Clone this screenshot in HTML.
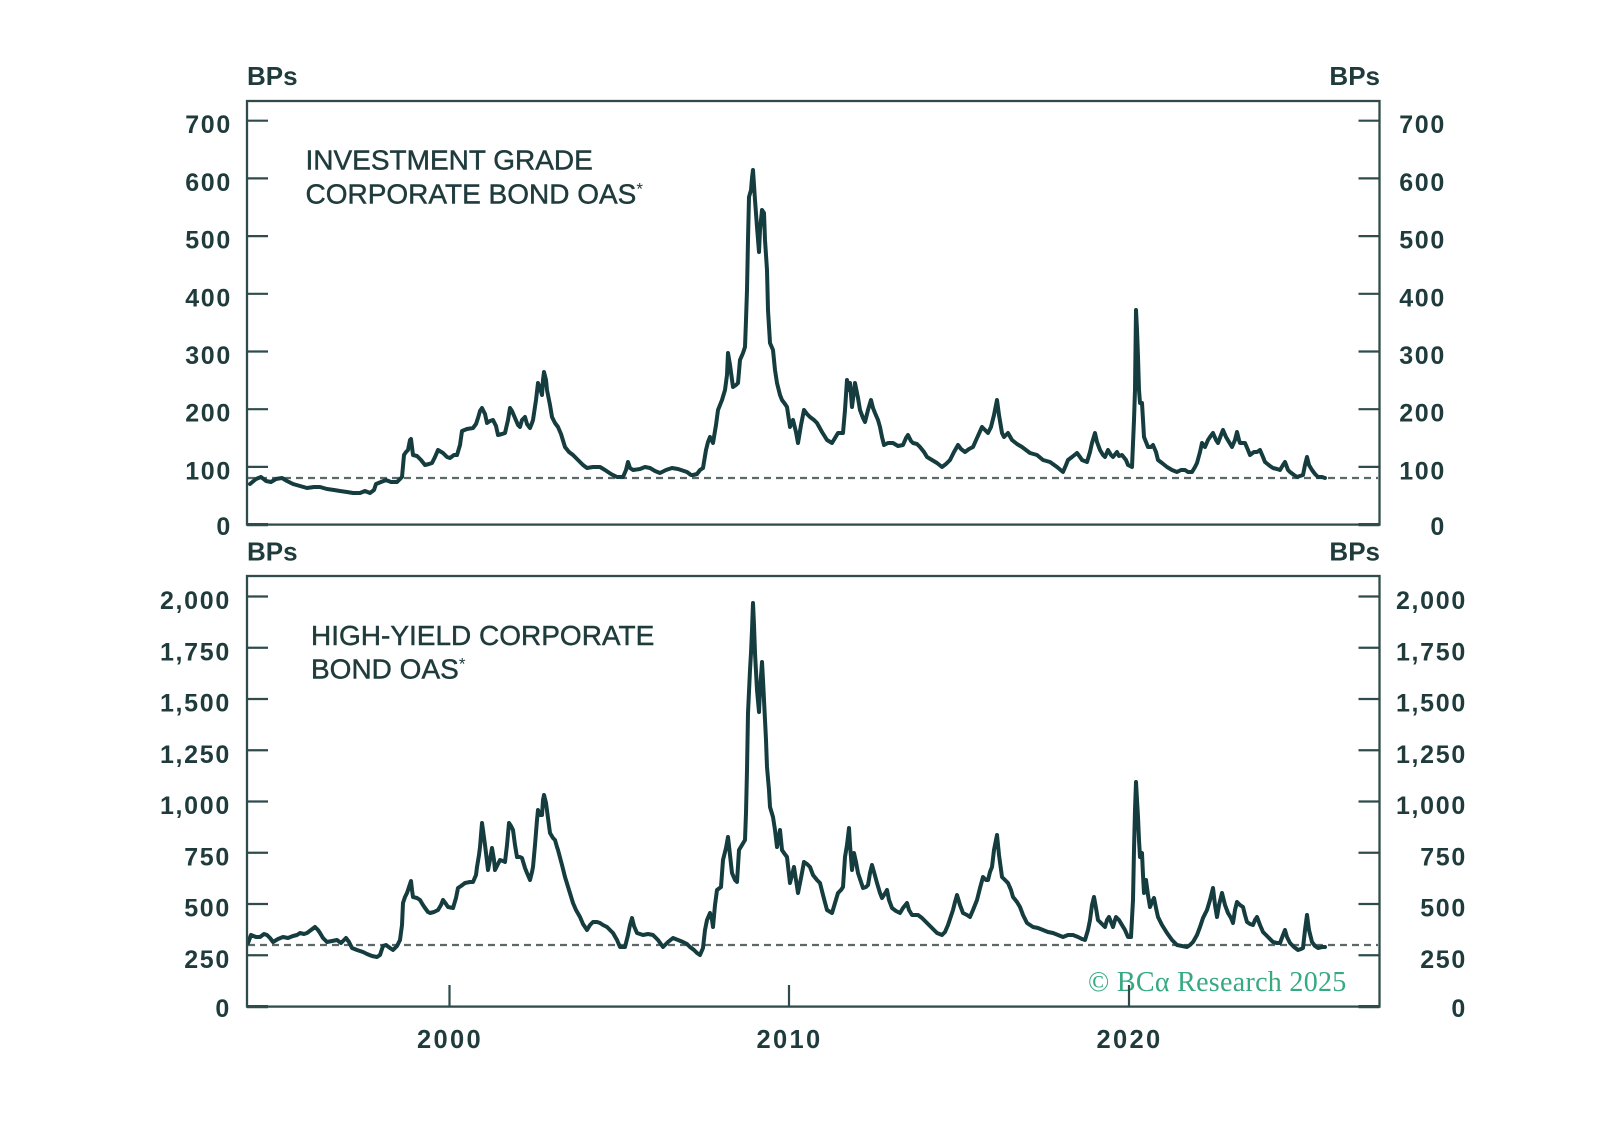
<!DOCTYPE html>
<html>
<head>
<meta charset="utf-8">
<style>
  html,body{margin:0;padding:0;background:#ffffff;}
  svg{display:block;}
  .lab{font-family:"Liberation Sans",Arial,sans-serif;font-weight:bold;font-size:25px;letter-spacing:1.7px;fill:#1f3b3c;}
  .xl{font-family:"Liberation Sans",Arial,sans-serif;font-weight:bold;font-size:25.5px;letter-spacing:2.3px;fill:#1f3b3c;}
  .ttl{font-family:"Liberation Sans",Arial,sans-serif;font-weight:normal;font-size:28px;fill:#1f3b3c;stroke:#1f3b3c;stroke-width:0.45px;}
  .bps{font-family:"Liberation Sans",Arial,sans-serif;font-weight:bold;font-size:26px;fill:#1f3b3c;}
  .cr{font-family:"Liberation Serif","Times New Roman",serif;font-size:28px;letter-spacing:0.3px;fill:#36a981;}
</style>
</head>
<body>
<svg width="1598" height="1144" viewBox="0 0 1598 1144" xmlns="http://www.w3.org/2000/svg">
  <rect x="0" y="0" width="1598" height="1144" fill="#ffffff"/>
  <defs>
    <clipPath id="c1"><rect x="248" y="102" width="1130" height="421"/></clipPath>
    <clipPath id="c2"><rect x="248" y="577" width="1130" height="428"/></clipPath>
  </defs>

  <!-- ===== TOP PANEL ===== -->
  <text class="bps" x="247" y="85">BPs</text>
  <text class="bps" x="1380" y="85" text-anchor="end">BPs</text>

  <line x1="248" y1="478" x2="1378" y2="478" stroke="#5d6868" stroke-width="2.2" stroke-dasharray="7 5"/>

  <polyline clip-path="url(#c1)" fill="none" stroke="#153c3e" stroke-width="4" stroke-linejoin="round" stroke-linecap="round"
  points="250,484 256,479 261,477 266,481 271,482 276,479 282,478 287,481 293,484 300,486 307,488 314,487 320,487 327,489 334,490 340,491 347,492 353,493 360,493 365,491 370,493 374,490 376,484 381,482 386,480 391,482 397,482 402,477 404,455 406,452 408,450 410,440 411,439 413,455 417,456 421,460 425,465 429,464 432,463 435,457 438,450 443,453 447,457 450,458 454,455 457,455 460,445 462,431 467,429 473,428 476,424 478,418 480,411 482,408 485,414 487,423 490,421 493,420 496,426 498,435 502,434 505,433 508,420 510,408 512,411 515,418 518,425 520,427 522,420 525,417 527,424 530,428 532,423 533,420 536,400 538,383 540,388 542,395 543,380 544,372 546,380 547,390 550,405 552,417 555,423 558,427 561,434 565,447 569,452 573,455 578,460 583,465 587,468 593,467 600,467 605,470 611,474 617,477 623,477 626,470 628,462 630,468 633,470 640,469 645,467 650,468 655,471 660,473 666,470 672,468 678,469 684,471 687,472 691,475 693,475 697,474 700,470 703,468 706,450 708,442 710,437 712,441 713,443 716,425 718,410 722,400 725,390 727,375 728,353 730,365 733,387 736,385 738,383 740,360 743,353 745,347 746,320 747,290 748,240 749,197 751,190 752,178 753,170 754,185 755,200 757,227 759,252 760,230 762,210 764,213 765,240 767,270 768,310 770,343 773,350 775,370 777,383 780,395 782,400 785,404 787,407 790,427 793,420 796,432 798,443 801,425 804,410 807,414 810,417 814,420 817,423 822,432 827,440 832,443 835,438 838,433 843,433 845,410 847,380 849,390 850,383 852,407 855,383 858,398 860,410 863,418 865,422 868,410 871,400 873,408 875,413 878,420 880,427 882,437 884,445 888,443 893,443 898,446 903,445 906,438 908,435 911,441 913,443 917,444 920,447 924,452 927,457 932,460 937,463 942,467 946,464 950,460 954,452 958,445 961,449 965,452 969,449 973,447 977,438 982,427 985,430 988,433 991,427 994,415 997,400 999,415 1002,433 1004,437 1008,433 1012,440 1017,444 1022,447 1026,450 1030,453 1037,455 1043,460 1050,462 1057,467 1063,472 1066,465 1068,460 1072,457 1077,453 1080,457 1082,460 1087,462 1090,452 1092,443 1095,433 1097,442 1100,450 1103,455 1105,457 1108,450 1111,455 1113,457 1117,452 1119,456 1122,455 1126,460 1128,465 1132,467 1134,420 1135,390 1136,310 1137,330 1138,357 1139,390 1140,403 1142,403 1144,437 1146,442 1148,447 1151,447 1153,445 1156,452 1158,460 1162,463 1167,467 1172,470 1177,472 1181,470 1185,470 1188,472 1192,472 1195,467 1197,463 1200,452 1202,443 1205,447 1208,440 1210,437 1213,433 1216,440 1218,443 1221,435 1223,430 1226,437 1229,442 1232,447 1235,440 1237,432 1239,440 1240,443 1245,443 1248,450 1250,455 1254,452 1257,452 1260,450 1263,457 1265,462 1270,466 1273,468 1277,469 1280,470 1283,465 1285,462 1288,470 1290,472 1294,475 1297,477 1300,476 1303,475 1305,465 1307,457 1309,465 1312,470 1315,474 1318,477 1322,477 1325,478"/>

  <rect x="247" y="101" width="1132.5" height="423.6" fill="none" stroke="#2f4b4c" stroke-width="2.3"/>

  <g stroke="#2f4b4c" stroke-width="2.2">
    <line x1="247" y1="120.7" x2="268" y2="120.7"/><line x1="1358.5" y1="120.7" x2="1379.5" y2="120.7"/>
    <line x1="247" y1="178.4" x2="268" y2="178.4"/><line x1="1358.5" y1="178.4" x2="1379.5" y2="178.4"/>
    <line x1="247" y1="236.1" x2="268" y2="236.1"/><line x1="1358.5" y1="236.1" x2="1379.5" y2="236.1"/>
    <line x1="247" y1="293.8" x2="268" y2="293.8"/><line x1="1358.5" y1="293.8" x2="1379.5" y2="293.8"/>
    <line x1="247" y1="351.5" x2="268" y2="351.5"/><line x1="1358.5" y1="351.5" x2="1379.5" y2="351.5"/>
    <line x1="247" y1="409.2" x2="268" y2="409.2"/><line x1="1358.5" y1="409.2" x2="1379.5" y2="409.2"/>
    <line x1="247" y1="466.9" x2="268" y2="466.9"/><line x1="1358.5" y1="466.9" x2="1379.5" y2="466.9"/>
    <line x1="247" y1="524.6" x2="268" y2="524.6" stroke-width="3.2"/><line x1="1358.5" y1="524.6" x2="1379.5" y2="524.6" stroke-width="3.2"/>
  </g>

  <g class="lab" text-anchor="end">
    <text x="232" y="133.2">700</text>
    <text x="232" y="190.9">600</text>
    <text x="232" y="248.6">500</text>
    <text x="232" y="306.3">400</text>
    <text x="232" y="364">300</text>
    <text x="232" y="421.7">200</text>
    <text x="232" y="479.4">100</text>
    <text x="232" y="535">0</text>
  </g>
  <g class="lab" text-anchor="end">
    <text x="1446" y="133.2">700</text>
    <text x="1446" y="190.9">600</text>
    <text x="1446" y="248.6">500</text>
    <text x="1446" y="306.3">400</text>
    <text x="1446" y="364">300</text>
    <text x="1446" y="421.7">200</text>
    <text x="1446" y="479.4">100</text>
    <text x="1446" y="535">0</text>
  </g>

  <text class="ttl" x="305.5" y="169.3">INVESTMENT GRADE</text>
  <text class="ttl" x="305.5" y="203.3">CORPORATE BOND OAS<tspan font-size="17" dy="-9" stroke-width="0">*</tspan></text>

  <!-- ===== BOTTOM PANEL ===== -->
  <text class="bps" x="247" y="560.5">BPs</text>
  <text class="bps" x="1380" y="560.5" text-anchor="end">BPs</text>

  <line x1="248" y1="945" x2="1378" y2="945" stroke="#5d6868" stroke-width="2.2" stroke-dasharray="7 5"/>

  <polyline clip-path="url(#c2)" fill="none" stroke="#153c3e" stroke-width="4" stroke-linejoin="round" stroke-linecap="round"
  points="248,943 251,935 256,937 260,937 264,934 267,935 270,938 273,942 278,939 283,937 288,938 293,936 297,935 300,933 304,934 307,933 311,930 315,927 318,930 320,933 323,938 327,942 332,941 337,940 341,943 346,938 349,942 352,948 357,950 363,952 367,954 372,956 377,957 380,955 383,946 386,945 390,948 393,950 397,946 400,940 402,925 403,903 405,897 407,893 409,887 411,881 412,890 413,897 417,898 420,900 423,905 425,908 428,912 430,913 434,912 438,910 441,905 443,900 446,904 448,907 453,908 456,898 458,888 461,886 465,883 470,882 473,882 476,875 477,867 479,855 480,847 482,823 483,830 485,845 486,853 488,870 490,860 492,848 494,860 495,870 498,864 500,860 503,861 505,862 507,845 509,823 511,826 513,830 515,845 517,857 520,857 522,858 525,868 527,873 530,880 532,872 533,867 535,845 537,820 538,810 540,815 542,815 543,800 544,795 546,803 548,818 550,833 553,838 555,840 557,847 558,850 562,865 565,877 569,890 573,903 576,910 580,917 583,924 587,930 590,925 593,922 597,922 600,923 603,925 607,927 610,930 613,933 617,940 620,947 625,947 628,935 630,925 632,918 634,926 637,933 640,934 643,935 648,934 653,935 658,940 663,947 668,942 673,938 678,940 683,942 687,944 690,947 694,950 697,953 700,955 703,948 705,930 707,920 710,913 712,920 713,927 715,905 717,890 721,887 723,860 726,848 728,837 730,855 732,873 735,880 737,882 739,850 742,845 745,840 746,813 747,770 748,713 750,670 751,653 752,630 753,603 754,625 755,653 757,690 759,712 760,690 762,662 763,680 764,700 766,740 767,767 769,790 770,807 773,817 775,830 777,847 780,830 782,850 784,853 787,857 790,883 792,875 794,867 796,880 798,893 801,878 804,862 807,864 810,867 813,875 817,880 820,883 823,895 827,910 832,913 835,903 838,893 841,890 843,887 845,857 847,845 849,828 850,845 852,870 854,853 856,862 858,873 861,882 863,888 866,887 868,885 870,873 872,865 874,872 877,883 880,893 882,898 884,895 887,890 889,900 892,908 896,911 900,913 903,908 907,903 909,910 912,915 918,915 922,918 927,923 932,928 937,933 942,935 945,932 948,925 951,916 953,910 955,902 957,895 960,905 963,913 967,915 970,917 973,910 977,900 980,888 983,877 986,880 988,880 990,872 992,867 994,850 997,835 999,855 1002,877 1005,880 1008,883 1011,890 1013,897 1017,902 1020,907 1023,915 1027,923 1030,925 1033,927 1038,928 1043,930 1048,932 1053,933 1058,935 1063,937 1068,935 1073,935 1078,937 1082,939 1085,940 1088,930 1090,920 1092,905 1094,897 1096,908 1098,920 1101,923 1105,927 1107,920 1109,917 1111,922 1113,927 1115,920 1116,917 1119,920 1122,925 1125,930 1128,937 1131,937 1133,900 1134,850 1135,810 1136,782 1137,800 1138,817 1139,840 1140,857 1142,853 1143,875 1144,893 1146,880 1148,895 1150,907 1152,902 1154,898 1156,908 1158,917 1162,925 1167,933 1172,940 1177,945 1182,946 1187,947 1190,945 1193,942 1197,935 1200,927 1203,918 1207,910 1210,900 1213,888 1215,905 1217,917 1219,905 1222,893 1225,905 1228,913 1231,918 1233,923 1235,910 1237,902 1240,905 1243,907 1245,915 1247,922 1250,924 1253,925 1255,920 1257,917 1260,925 1263,932 1268,937 1273,942 1277,943 1280,943 1283,935 1285,930 1287,937 1290,943 1294,947 1298,950 1301,949 1303,948 1305,930 1307,915 1309,930 1312,942 1315,946 1318,948 1322,947 1325,947"/>

  <text class="cr" x="1088" y="991">© BCα Research 2025</text>

  <rect x="247" y="576" width="1132.5" height="430.6" fill="none" stroke="#2f4b4c" stroke-width="2.3"/>

  <g stroke="#2f4b4c" stroke-width="2.2">
    <line x1="247" y1="596.5" x2="268" y2="596.5"/><line x1="1358.5" y1="596.5" x2="1379.5" y2="596.5"/>
    <line x1="247" y1="647.75" x2="268" y2="647.75"/><line x1="1358.5" y1="647.75" x2="1379.5" y2="647.75"/>
    <line x1="247" y1="699" x2="268" y2="699"/><line x1="1358.5" y1="699" x2="1379.5" y2="699"/>
    <line x1="247" y1="750.25" x2="268" y2="750.25"/><line x1="1358.5" y1="750.25" x2="1379.5" y2="750.25"/>
    <line x1="247" y1="801.5" x2="268" y2="801.5"/><line x1="1358.5" y1="801.5" x2="1379.5" y2="801.5"/>
    <line x1="247" y1="852.75" x2="268" y2="852.75"/><line x1="1358.5" y1="852.75" x2="1379.5" y2="852.75"/>
    <line x1="247" y1="904" x2="268" y2="904"/><line x1="1358.5" y1="904" x2="1379.5" y2="904"/>
    <line x1="247" y1="955.25" x2="268" y2="955.25"/><line x1="1358.5" y1="955.25" x2="1379.5" y2="955.25"/>
    <line x1="247" y1="1006.6" x2="268" y2="1006.6" stroke-width="3.2"/><line x1="1358.5" y1="1006.6" x2="1379.5" y2="1006.6" stroke-width="3.2"/>
    <line x1="449.5" y1="985" x2="449.5" y2="1006.6"/>
    <line x1="789" y1="985" x2="789" y2="1006.6"/>
    <line x1="1129" y1="985" x2="1129" y2="1006.6"/>
  </g>

  <g class="lab" text-anchor="end">
    <text x="231" y="609">2,000</text>
    <text x="231" y="660.3">1,750</text>
    <text x="231" y="711.5">1,500</text>
    <text x="231" y="762.8">1,250</text>
    <text x="231" y="814">1,000</text>
    <text x="231" y="865.3">750</text>
    <text x="231" y="916.5">500</text>
    <text x="231" y="967.8">250</text>
    <text x="231" y="1017">0</text>
  </g>
  <g class="lab" text-anchor="end">
    <text x="1467" y="609">2,000</text>
    <text x="1467" y="660.3">1,750</text>
    <text x="1467" y="711.5">1,500</text>
    <text x="1467" y="762.8">1,250</text>
    <text x="1467" y="814">1,000</text>
    <text x="1467" y="865.3">750</text>
    <text x="1467" y="916.5">500</text>
    <text x="1467" y="967.8">250</text>
    <text x="1467" y="1017">0</text>
  </g>

  <text class="ttl" x="311" y="645">HIGH-YIELD CORPORATE</text>
  <text class="ttl" x="311" y="678.5">BOND OAS<tspan font-size="17" dy="-9" stroke-width="0">*</tspan></text>

  <g class="xl" text-anchor="middle">
    <text x="450" y="1048">2000</text>
    <text x="789.5" y="1048">2010</text>
    <text x="1129.5" y="1048">2020</text>
  </g>
</svg>
</body>
</html>
